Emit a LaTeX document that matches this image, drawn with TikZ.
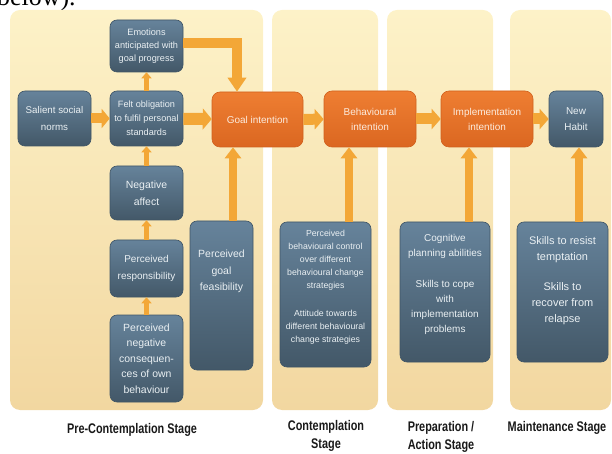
\documentclass[tikz,border=0pt]{standalone}
\usepackage{fontspec}
\setmainfont{Liberation Sans}
\newfontfamily\stagefont{Liberation Sans}[FakeStretch=0.78]
\newfontfamily\captionfont{Liberation Serif}
\usetikzlibrary{arrows.meta}

\definecolor{panelTop}{HTML}{FDF2C8}
\definecolor{panelBot}{HTML}{F2D7A0}
\definecolor{blueTop}{HTML}{66839B}
\definecolor{blueBot}{HTML}{435868}
\definecolor{blueEdge}{HTML}{3F5566}
\definecolor{orTop}{HTML}{EE7E32}
\definecolor{orBot}{HTML}{DB6721}
\definecolor{orEdge}{HTML}{D0611E}
\definecolor{arrowC}{HTML}{F3A737}
\definecolor{boxText}{HTML}{EAF0F3}
\definecolor{orText}{HTML}{FCEBDD}

\tikzset{
  panel/.style={top color=panelTop, bottom color=panelBot, rounded corners=10bp},
  bluebox/.style={rounded corners=7bp, top color=blueTop, bottom color=blueBot,
    draw=blueEdge, line width=0.6bp, text=boxText, align=center, inner sep=0pt},
  orangebox/.style={rounded corners=8bp, top color=orTop, bottom color=orBot,
    draw=orEdge, line width=0.6bp, text=orText, align=center, inner sep=0pt,
    minimum height=56bp},
  boxlabel/.style={text=boxText, align=center, inner sep=0pt, anchor=north},
  flowarrow/.style={draw=arrowC, line width=11bp, -{Triangle[width=20bp,length=9bp]}},
  feedarrow/.style={draw=arrowC, line width=8bp, -{Triangle[width=16bp,length=11bp]}},
  stackarrow/.style={draw=arrowC, line width=4.5bp, -{Triangle[width=10bp,length=6bp]}},
  stagelabel/.style={font=\stagefont\bfseries\fontsize{14}{18}\selectfont,
    align=center, text=black!90, inner sep=0pt}
}

\begin{document}
\begin{tikzpicture}[x=1bp, y=-1bp]
\useasboundingbox (0,0) rectangle (612,454);
\clip (0,0) rectangle (612,454);

% running text above the figure
\node[anchor=base west, inner sep=0pt, font=\captionfont\fontsize{26}{26}\selectfont]
  (cut) at (-3,5.5) {below).};

% stage panels
\shade[panel] (10,10) rectangle (263,410);
\shade[panel] (272,10) rectangle (378,410);
\shade[panel] (387,10) rectangle (493,410);
\shade[panel] (510,10) rectangle (611,410);

% pre-contemplation column
\node[bluebox, minimum width=73bp, minimum height=52bp, font=\fontsize{9.2}{13}\selectfont]
  (emo) at (146.5,46) {Emotions\\anticipated with\\goal progress};
\node[bluebox, minimum width=73bp, minimum height=55bp, font=\fontsize{9.2}{14}\selectfont]
  (felt) at (146.5,118.5) {Felt obligation\\to fulfil personal\\standards};
\node[bluebox, minimum width=73bp, minimum height=55bp, font=\fontsize{9.8}{17}\selectfont]
  (sal) at (54.5,118.5) {Salient social\\norms};
\node[bluebox, minimum width=73bp, minimum height=54bp, font=\fontsize{10.5}{17}\selectfont]
  (neg) at (146.5,193) {Negative\\affect};
\node[bluebox, minimum width=73bp, minimum height=57bp, font=\fontsize{10}{17}\selectfont]
  (resp) at (146.5,268.5) {Perceived\\responsibility};
\node[bluebox, minimum width=73bp, minimum height=87bp, font=\fontsize{10.5}{15.5}\selectfont]
  (cons) at (146.5,358.5) {Perceived\\negative\\consequen-\\ces of own\\behaviour};
\node[bluebox, minimum width=63bp, minimum height=149bp] (feas) at (221.5,295.5) {};
\node[boxlabel, font=\fontsize{10.5}{16.5}\selectfont]
  (feas-t) at (221.5,250) {Perceived\\goal\\feasibility};

% intentions and habit
\node[orangebox, minimum width=91bp, minimum height=55bp, font=\fontsize{10}{15}\selectfont]
  (goal) at (257.5,119.5) {Goal intention};
\node[orangebox, minimum width=92bp, font=\fontsize{10}{15}\selectfont]
  (beh) at (370,119) {Behavioural\\intention};
\node[orangebox, minimum width=92bp, font=\fontsize{10}{15}\selectfont]
  (imp) at (487,119) {Implementation\\intention};
\node[bluebox, minimum width=54bp, minimum height=56bp, font=\fontsize{10}{16}\selectfont]
  (hab) at (576,119) {New\\Habit};

% determinants of the later stages
\node[bluebox, minimum width=91bp, minimum height=145bp] (ctrl) at (325.5,294.5) {};
\node[boxlabel, font=\fontsize{8.8}{13}\selectfont] (ctrl-t) at (325.5,230)
  {Perceived\\behavioural control\\over different\\behavioural change\\strategies\\[15bp]%
   Attitude towards\\different behavioural\\change strategies};
\node[bluebox, minimum width=90bp, minimum height=140bp] (cog) at (445,292) {};
\node[boxlabel, font=\fontsize{10}{15}\selectfont] (cog-t) at (445,234.5)
  {Cognitive\\planning abilities\\[16bp]Skills to cope\\with\\implementation\\problems};
\node[bluebox, minimum width=91bp, minimum height=140bp] (skl) at (562.5,292) {};
\node[boxlabel, font=\fontsize{11}{16}\selectfont] (skl-t) at (562.5,236.5)
  {Skills to resist\\temptation\\[14bp]Skills to\\recover from\\relapse};

% connectors
\coordinate (bend) at (237,43);
\draw[draw=arrowC, line width=10bp, line join=miter, -{Triangle[width=18bp,length=14bp]}]
  (emo.east |- bend) -- (bend) -- (bend |- goal.north);
\draw[flowarrow, line width=10bp, -{Triangle[width=19bp,length=8bp]}] (sal) -- (felt);
\draw[flowarrow, line width=12bp, -{Triangle[width=21bp,length=9bp]}] (felt) -- (goal);
\draw[flowarrow] (goal) -- (beh);
\draw[flowarrow] (beh) -- (imp);
\draw[flowarrow] (imp) -- (hab);

\draw[stackarrow] (felt) -- (emo);
\draw[stackarrow] (neg) -- (felt);
\draw[stackarrow] (resp) -- (neg);
\draw[stackarrow] (cons) -- (resp);

\draw[feedarrow] ([xshift=11.5bp]feas.north) -- ([xshift=11.5bp]feas.north |- goal.south);
\draw[feedarrow] ([xshift=23.5bp]ctrl.north) -- ([xshift=23.5bp]ctrl.north |- beh.south);
\draw[feedarrow] ([xshift=24bp]cog.north) -- ([xshift=24bp]cog.north |- imp.south);
\draw[feedarrow] ([xshift=16.5bp]skl.north) -- ([xshift=16.5bp]skl.north |- hab.south);

% stage names
\node[stagelabel] (s1) at (132,430) {Pre-Contemplation Stage};
\node[stagelabel] (s2) at (326,436) {Contemplation\\Stage};
\node[stagelabel] (s3) at (441,436.5) {Preparation /\\Action Stage};
\node[stagelabel] (s4) at (557,428) {Maintenance Stage};
\end{tikzpicture}
\end{document}
